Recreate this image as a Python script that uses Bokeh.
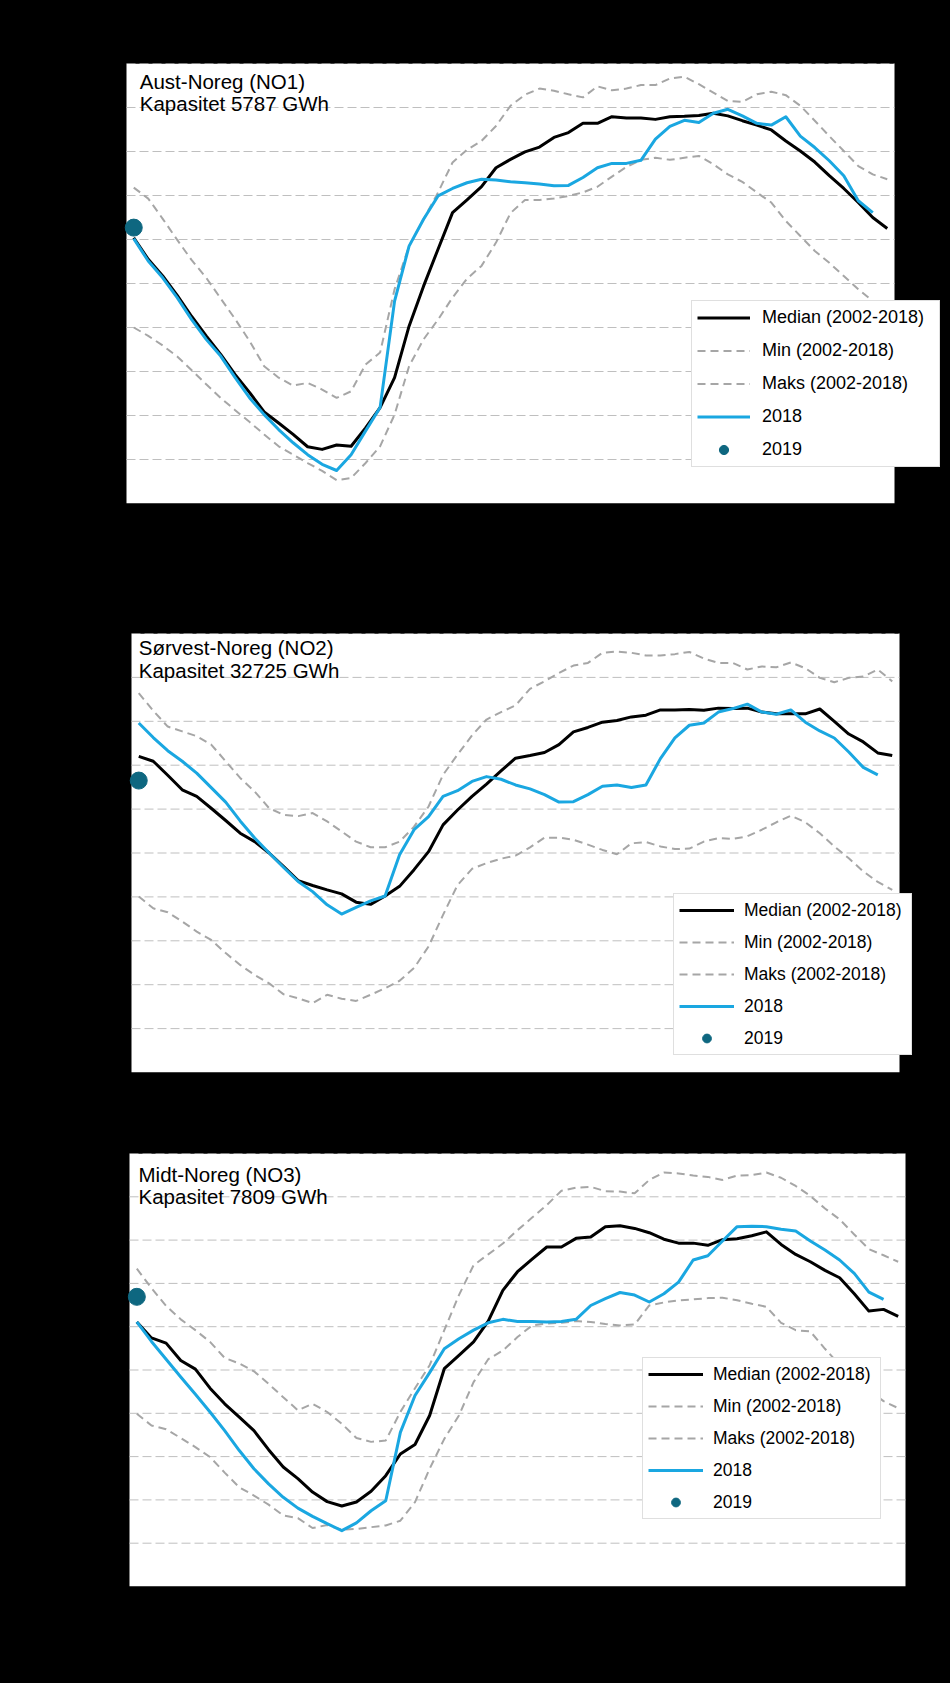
from bokeh.plotting import figure
from bokeh.models import Range1d, Legend, LegendItem, Label
from bokeh.layouts import column
from bokeh.embed import file_html
from bokeh.resources import INLINE

# ---------------- data (fyllingsgrad, % of capacity, per week) ----------------
weeks = list(range(1, 54))
weeks_2018 = list(range(1, 53))
week_2019 = [1]

no1_median = [60.4, 55.5, 51.7, 47.3, 42.5, 38.1, 33.9, 29.3, 25.2, 20.8,
              18.3, 15.7, 12.9, 12.3, 13.3, 13.0, 17.2, 21.8, 28.6, 40.3,
              49.4, 57.8, 66.1, 69.0, 72.0, 76.3, 78.2, 79.9, 81.0, 83.2,
              84.3, 86.4, 86.4, 87.9, 87.6, 87.6, 87.3, 87.9, 88.0, 88.2,
              88.7, 88.1, 87.0, 86.0, 84.9, 82.4, 80.1, 77.6, 74.5, 71.6,
              68.4, 65.0, 62.5]
no1_2018 = [60.2, 55.1, 51.3, 46.8, 41.8, 37.3, 33.5, 28.6, 24.0, 20.2,
            16.8, 13.8, 11.1, 8.9, 7.5, 11.1, 16.5, 21.8, 46.0, 58.5,
            64.6, 69.9, 71.6, 72.9, 73.7, 73.5, 73.1, 72.9, 72.6, 72.2,
            72.3, 74.1, 76.3, 77.3, 77.3, 78.0, 82.8, 85.7, 87.1, 86.6,
            88.7, 89.6, 88.1, 86.4, 86.0, 87.9, 83.5, 80.9, 77.9, 74.5,
            68.8, 66.1]
no1_maks = [71.8, 69.3, 64.7, 59.9, 55.3, 51.3, 46.6, 41.9, 36.9, 31.2,
            28.6, 26.8, 27.4, 25.9, 24.0, 25.5, 31.6, 34.3, 48.7, 58.5,
            64.6, 70.7, 77.5, 80.4, 82.4, 85.8, 90.4, 92.9, 94.3, 93.8,
            93.0, 92.3, 94.8, 93.9, 94.3, 95.1, 95.1, 96.6, 97.0, 95.3,
            93.4, 91.5, 91.3, 93.0, 93.6, 92.8, 90.4, 87.0, 83.5, 80.1,
            76.7, 74.8, 73.7]
no1_min = [40.0, 38.1, 35.9, 33.4, 30.3, 27.1, 24.0, 21.2, 18.5, 15.7,
           13.0, 11.1, 9.2, 7.4, 5.3, 5.8, 9.2, 13.0, 20.2, 31.2,
           37.3, 41.8, 46.8, 51.1, 54.0, 59.3, 66.0, 69.0, 69.0, 69.3,
           69.9, 70.7, 72.0, 74.3, 76.5, 78.1, 78.6, 78.1, 78.6, 79.0,
           77.1, 74.8, 73.1, 70.7, 68.4, 64.2, 60.8, 57.4, 54.7, 51.7,
           48.7, 46.0, 43.7]
no1_2019 = [62.7]

no2_median = [72.0, 70.9, 67.7, 64.4, 62.9, 60.2, 57.4, 54.5, 52.6, 50.0,
              46.9, 43.7, 42.6, 41.6, 40.7, 38.8, 38.3, 40.2, 42.4, 46.2,
              50.3, 56.4, 59.8, 62.9, 65.7, 68.7, 71.6, 72.2, 72.9, 74.7,
              77.6, 78.6, 79.8, 80.2, 81.0, 81.4, 82.6, 82.6, 82.7, 82.5,
              83.0, 82.9, 83.0, 82.1, 81.7, 81.7, 81.7, 82.8, 80.0, 77.1,
              75.3, 72.8, 72.2]
no2_2018 = [79.6, 76.3, 73.3, 70.9, 68.2, 64.9, 61.6, 57.3, 53.4, 50.0,
            46.7, 43.5, 41.2, 38.2, 36.1, 37.6, 39.1, 40.2, 49.6, 55.3,
            58.3, 62.9, 64.2, 66.3, 67.4, 66.8, 65.5, 64.6, 63.3, 61.6,
            61.7, 63.3, 65.2, 65.5, 64.9, 65.5, 71.5, 76.2, 79.1, 79.6,
            82.1, 82.9, 83.9, 82.1, 81.6, 82.6, 79.8, 77.8, 76.2, 73.0,
            69.5, 67.8]
no2_maks = [86.4, 82.4, 78.8, 77.7, 76.6, 74.7, 70.9, 67.1, 64.0, 60.2,
            58.7, 58.4, 59.1, 57.2, 54.9, 52.6, 51.3, 51.3, 52.6, 56.0,
            60.6, 67.8, 72.4, 76.8, 80.4, 82.1, 83.6, 87.4, 89.1, 91.0,
            92.7, 93.3, 95.6, 95.9, 95.6, 95.0, 95.0, 95.3, 95.8, 94.3,
            93.3, 93.3, 91.8, 92.5, 92.3, 93.4, 92.1, 89.9, 88.9, 89.9,
            90.2, 91.8, 89.1]
no2_min = [40.1, 37.4, 36.5, 34.4, 32.1, 30.2, 27.2, 24.5, 22.2, 20.3,
           17.8, 16.9, 15.8, 17.7, 16.8, 16.3, 17.7, 19.2, 20.9, 23.8,
           28.7, 35.9, 42.7, 46.4, 47.7, 48.7, 49.4, 51.3, 53.5, 53.5,
           53.0, 51.9, 50.7, 49.7, 52.2, 52.5, 51.5, 50.9, 51.0, 52.6,
           53.4, 53.2, 53.8, 55.3, 57.0, 58.5, 57.0, 54.5, 51.5, 48.8,
           45.8, 43.4, 41.6]
no2_2019 = [66.5]

no3_median = [61.1, 57.4, 56.2, 52.2, 50.2, 45.8, 42.2, 39.1, 36.0, 31.6,
              27.6, 24.9, 21.8, 19.6, 18.6, 19.5, 22.0, 25.6, 30.6, 32.8,
              39.5, 50.3, 53.4, 56.5, 61.3, 68.4, 72.7, 75.6, 78.4, 78.4,
              80.4, 80.7, 83.1, 83.3, 82.7, 81.7, 80.2, 79.3, 79.3, 78.8,
              80.1, 80.3, 81.0, 81.9, 79.0, 76.7, 75.0, 73.0, 71.3, 67.6,
              63.6, 64.0, 62.4]
no3_2018 = [61.1, 56.6, 52.5, 48.4, 44.4, 40.3, 36.0, 31.4, 27.2, 23.7,
            20.6, 18.1, 16.2, 14.5, 12.9, 14.7, 17.5, 19.8, 35.6, 44.1,
            49.4, 54.9, 57.2, 59.2, 60.9, 61.7, 61.2, 61.2, 61.1, 61.2,
            61.7, 64.9, 66.5, 67.9, 67.3, 65.7, 67.6, 70.3, 75.4, 76.4,
            79.8, 83.1, 83.2, 83.1, 82.5, 82.1, 79.8, 77.7, 75.4, 72.3,
            68.0, 66.3]
no3_maks = [73.4, 68.9, 64.8, 61.7, 59.2, 56.5, 52.8, 51.5, 49.7, 46.8,
            43.7, 40.7, 42.2, 40.3, 37.6, 34.3, 33.4, 33.7, 40.3, 45.8,
            51.1, 59.2, 67.3, 74.2, 76.7, 79.2, 82.3, 85.2, 88.1, 91.4,
            92.1, 92.3, 91.3, 91.2, 90.8, 93.9, 95.6, 95.4, 94.9, 94.6,
            93.9, 94.9, 95.0, 95.6, 94.4, 92.5, 90.2, 87.3, 84.8, 81.3,
            77.9, 76.5, 75.0]
no3_min = [39.9, 37.2, 36.3, 34.3, 32.2, 29.9, 26.3, 22.9, 21.0, 18.9,
           16.4, 15.8, 13.5, 14.2, 13.1, 13.3, 13.7, 14.1, 15.2, 19.5,
           27.2, 34.1, 39.5, 47.2, 52.5, 54.5, 57.6, 60.3, 60.7, 60.9,
           61.3, 61.1, 60.6, 60.3, 60.5, 64.9, 65.6, 66.1, 66.3, 66.6,
           66.7, 66.1, 65.3, 64.6, 60.9, 59.2, 58.9, 54.9, 51.2, 48.0,
           45.3, 42.8, 41.2]
no3_2019 = [66.9]

titles = ["Aust-Noreg (NO1)", "Sørvest-Noreg (NO2)", "Midt-Noreg (NO3)"]
capacities = ["Kapasitet 5787 GWh", "Kapasitet 32725 GWh", "Kapasitet 7809 GWh"]
legend_labels = ["Median (2002-2018)", "Min (2002-2018)", "Maks (2002-2018)", "2018", "2019"]
grid_ticks = [10, 20, 30, 40, 50, 60, 70, 80, 90, 100]
y_lo, y_hi = 0, 100
wk_lo, wk_hi = 0.5, 53.5

# ---------------- styling ----------------
FONT = "Liberation Sans"
BLACK = "#000000"
GREY = "#A6A6A6"
BLUE = "#1AA7E1"
DOT = "#0E6780"

FIG_W = 942      # figure width (Bokeh's page template has no body margin)
COMMON_L = 120   # common left border so the column's frames align


def make_panel(title, cap, med, mn, mx, y18, y19, g):
    s = g["dw"] / (wk_hi - wk_lo)            # pixels per week
    x0 = wk_lo - (g["dl"] - COMMON_L) / s
    x1 = wk_lo + (FIG_W - g["dl"]) / s
    p = figure(width=FIG_W, height=g["h"], output_backend="svg", toolbar_location=None,
               x_range=Range1d(x0, x1), y_range=Range1d(y_lo, y_hi),
               x_axis_location=None, y_axis_location=None,
               min_border_left=COMMON_L, min_border_right=0,
               min_border_top=g["t"], min_border_bottom=g["b"],
               background_fill_color="black", border_fill_color="black",
               outline_line_color=None)
    p.grid.visible = False

    # white plot area spanning the 53 weeks, with dashed horizontal gridlines
    p.quad(left=[wk_lo], right=[wk_hi], bottom=[y_lo], top=[y_hi],
           fill_color="white", line_color=None)
    n = len(grid_ticks)
    p.segment(x0=[wk_lo] * n, x1=[wk_hi] * n, y0=grid_ticks, y1=grid_ticks,
              line_color="#BFBFBF", line_width=1, line_dash="9 4")

    r_min = p.line(weeks, mn, line_color=GREY, line_width=2, line_dash="8 5")
    r_max = p.line(weeks, mx, line_color=GREY, line_width=2, line_dash="8 5")
    r_med = p.line(weeks, med, line_color=BLACK, line_width=3, line_join="round")
    r_18 = p.line(weeks_2018, y18, line_color=BLUE, line_width=3, line_join="round")
    r_19 = p.scatter(week_2019, y19, size=17, fill_color=DOT, line_color=DOT)

    items = [LegendItem(label=legend_labels[0], renderers=[r_med]),
             LegendItem(label=legend_labels[1], renderers=[r_min]),
             LegendItem(label=legend_labels[2], renderers=[r_max]),
             LegendItem(label=legend_labels[3], renderers=[r_18]),
             LegendItem(label=legend_labels[4], renderers=[r_19])]
    leg = Legend(items=items, location=(g["lx"] - COMMON_L, g["ly"]),
                 label_text_font=FONT, label_text_font_size=g["leg_fs"],
                 label_text_color="black",
                 glyph_width=g["gw"], glyph_height=g["gh"], label_height=g["gh"],
                 spacing=g["sp"], padding=5, margin=0,
                 label_standoff=g["so"], label_width=g["lw"],
                 border_line_color="#BFBFBF", border_line_width=1,
                 background_fill_color="white", background_fill_alpha=1.0)
    p.add_layout(leg, "center")

    fh = g["h"] - g["t"] - g["b"]
    tx = wk_lo + g["tx"] / s
    for txt, dy in ((title, g["ty1"]), (cap, g["ty2"])):
        p.add_layout(Label(x=tx, y=y_hi - dy * (y_hi - y_lo) / fh, text=txt,
                           text_font=FONT, text_font_size="20.5px",
                           text_color="black", text_baseline="alphabetic"))
    return p


geoms = [
    dict(h=568, t=63, b=65, dl=126, dw=768, lx=691, ly=36, leg_fs="18px",
         gw=53, gh=23, sp=10, so=12, lw=172, tx=13.3, ty1=18.0, ty2=39.6),
    dict(h=555, t=65, b=51, dl=131, dw=768, lx=673, ly=17, leg_fs="17.5px",
         gw=55, gh=22, sp=10, so=10, lw=162, tx=7.3, ty1=14.0, ty2=37.4),
    dict(h=555, t=30, b=92, dl=129, dw=776, lx=642, ly=67, leg_fs="17.5px",
         gw=55, gh=22, sp=10, so=10, lw=162, tx=9.0, ty1=20.5, ty2=43.2),
]

p1 = make_panel(titles[0], capacities[0], no1_median, no1_min, no1_maks, no1_2018, no1_2019, geoms[0])
p2 = make_panel(titles[1], capacities[1], no2_median, no2_min, no2_maks, no2_2018, no2_2019, geoms[1])
p3 = make_panel(titles[2], capacities[2], no3_median, no3_min, no3_maks, no3_2018, no3_2019, geoms[2])

layout = column(p1, p2, p3, spacing=0)
html = file_html(layout, INLINE, title="Fyllingsgrad")
html = html.replace("<head>", "<head><style>html, body { background: #000000; }</style>", 1)
open("out.html", "w").write(html)
